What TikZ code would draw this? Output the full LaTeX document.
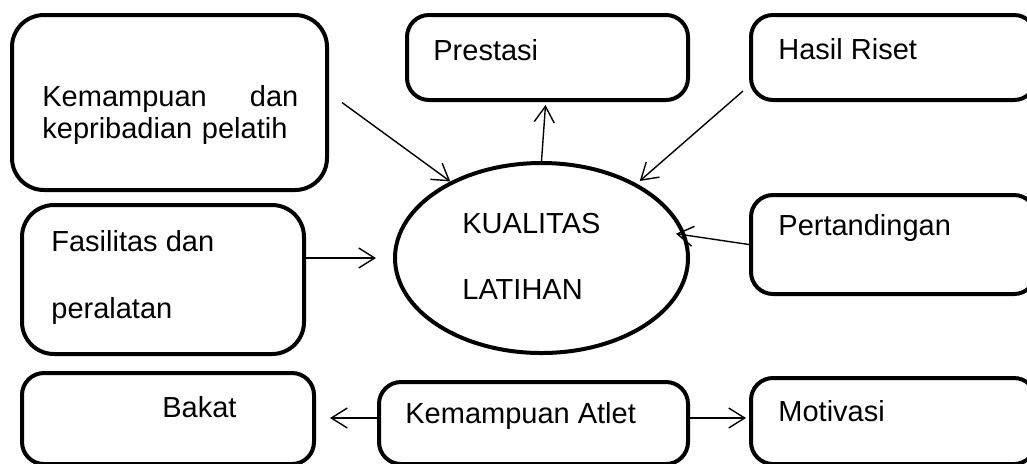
\documentclass[tikz,border=0pt]{standalone}
\usepackage{fontspec}
\setmainfont{Liberation Sans}
\usetikzlibrary{arrows.meta,fit,shapes.geometric}

\tikzset{
  kotak/.style={draw, line width=2pt, rounded corners=11pt, inner sep=0pt},
  elips/.style={draw, ellipse, line width=2pt, inner sep=0pt},
  teks/.style={anchor=base west, inner sep=0pt, font=\fontsize{14.5}{16}\selectfont},
  panah/.style={-{Straight Barb[length=8pt,width=10pt]}, line width=0.7pt}
}

\begin{document}
\begin{tikzpicture}[x=0.5pt, y=-0.5pt]

\clip (0,0) rectangle (1027,463);

% kotak
\node [kotak, rounded corners=16pt, fit={(12,15) (327,190)}] (pelatih) {};
\node [kotak, fit={(407,15) (688,100)}] (prestasi) {};
\node [kotak, fit={(751,15) (1036,100)}] (riset) {};
\node [kotak, rounded corners=16pt, fit={(22,205) (304,354)}] (fasilitas) {};
\node [kotak, fit={(751,195) (1036,294)}] (tanding) {};
\node [kotak, fit={(22,373) (314,464)}] (bakat) {};
\node [kotak, fit={(379,382) (688,464)}] (atlet) {};
\node [kotak, fit={(751,378) (1036,464)}] (motivasi) {};
\node [elips, minimum width=146.5pt, minimum height=95pt] (kualitas) at (541.5,258) {};

% teks
\node [teks, text width=128pt, align=left] (pelatihteks) at (42,106) {Kemampuan\hfill dan\\kepribadian pelatih};
\node [teks] (prestasiteks) at (433,60) {Prestasi};
\node [teks] (risetteks) at (778,59) {Hasil Riset};
\node [teks, align=left] (kualitasteks) at (462,299) {KUALITAS\\[17pt]LATIHAN};
\node [teks, align=left] (fasilitasteks) at (51,318) {Fasilitas dan\\[17.5pt]peralatan};
\node [teks] (tandingteks) at (778,235) {Pertandingan};
\node [teks] (bakatteks) at (162,417) {Bakat};
\node [teks] (atletteks) at (405,423) {Kemampuan Atlet};
\node [teks] (motivasiteks) at (778,421) {Motivasi};

% panah
\coordinate (barisbawah) at (0,418);
\draw [panah] ([xshift=6.5pt]pelatih.east) -- (kualitas.140);
\draw [panah] (kualitas.north) -- ([shift={(-1pt,-1.5pt)}]prestasi.south);
\draw [panah, shorten >=2pt] ([shift={(-3pt,5.5pt)}]riset.south west) -- (kualitas.38);
\draw [panah, shorten >=8.5pt] (fasilitas.east |- kualitas.west) -- (kualitas.west);
\draw [panah, shorten >=-5pt] (tanding.west) -- (kualitas.9);
\draw [panah, shorten >=7pt] (atlet.west |- barisbawah) -- (bakat.east |- barisbawah);
\draw [panah, shorten >=1.5pt] (atlet.east |- barisbawah) -- (motivasi.west |- barisbawah);

\end{tikzpicture}
\end{document}
